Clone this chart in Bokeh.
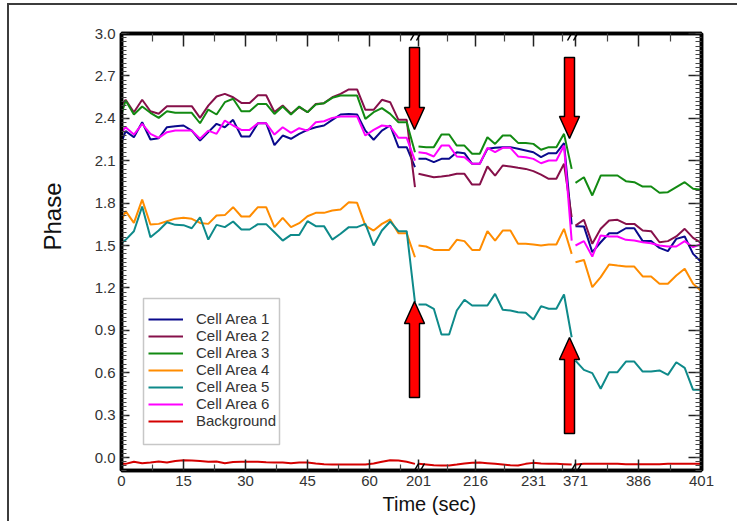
from bokeh.plotting import figure
from bokeh.models import (Range1d, FixedTicker, LinearAxis, Legend, LegendItem,
                          BoxAnnotation, Arrow, Title, CustomJSTickFormatter,
                          PrintfTickFormatter)
from bokeh.embed import file_html
from bokeh.resources import INLINE

# ---------------- data ----------------
t_seg1 = [0, 1, 3, 5, 7, 9, 11, 13, 15, 17, 19, 21, 23, 25, 27, 29, 31, 33, 35,
          37, 39, 41, 43, 45, 47, 49, 51, 53, 55, 57, 59, 61, 63, 65, 67, 69, 71]
t_seg2 = [201, 203, 205, 207, 209, 211, 213, 215, 217, 219, 221, 223, 225, 227,
          229, 231, 233, 235, 237, 239, 241]
t_seg3 = [371, 373, 375, 377, 379, 381, 383, 385, 387, 389, 391, 393, 395, 397,
          399, 401]

ca1_s1 = [2.231, 2.309, 2.266, 2.372, 2.250, 2.259, 2.337, 2.344, 2.349, 2.313,
          2.243, 2.302, 2.361, 2.337, 2.389, 2.271, 2.271, 2.365, 2.365,
          2.210, 2.278, 2.255, 2.290, 2.318, 2.337, 2.349, 2.389, 2.427, 2.431,
          2.427, 2.313, 2.248, 2.313, 2.349, 2.196, 2.196, 2.054]
ca1_s2 = [2.113, 2.113, 2.090, 2.113, 2.113, 2.160, 2.153, 2.078, 2.078, 2.184,
          2.191, 2.196, 2.196, 2.184, 2.172, 2.160, 2.125, 2.153, 2.153, 2.224, 1.650]
ca1_s3 = [1.637, 1.635, 1.453, 1.523, 1.587, 1.587, 1.622, 1.622, 1.531, 1.531,
          1.483, 1.460, 1.547, 1.564, 1.441, 1.382]

ca2_s1 = [2.497, 2.531, 2.443, 2.531, 2.450, 2.432, 2.486, 2.486, 2.486, 2.486,
          2.403, 2.490, 2.554, 2.573, 2.549, 2.509, 2.509, 2.563, 2.563,
          2.445, 2.490, 2.432, 2.479, 2.443, 2.502, 2.507, 2.549, 2.573, 2.604,
          2.604, 2.460, 2.460, 2.531, 2.514, 2.389, 2.389, 1.913]
ca2_s2 = [2.007, 1.995, 1.983, 1.988, 1.995, 2.007, 2.007, 1.931, 1.931, 2.059,
          1.995, 2.066, 2.059, 2.050, 2.042, 2.026, 2.002, 1.972, 1.972, 2.078, 1.700]
ca2_s3 = [1.641, 1.682, 1.512, 1.618, 1.677, 1.682, 1.653, 1.653, 1.606, 1.601,
          1.523, 1.531, 1.564, 1.618, 1.554, 1.516]

ca3_s1 = [2.431, 2.526, 2.427, 2.483, 2.439, 2.403, 2.450, 2.439, 2.439, 2.439,
          2.365, 2.462, 2.427, 2.514, 2.538, 2.450, 2.450, 2.502, 2.502,
          2.431, 2.483, 2.427, 2.483, 2.443, 2.497, 2.507, 2.545, 2.561, 2.561,
          2.561, 2.396, 2.443, 2.472, 2.431, 2.372, 2.372, 2.160]
ca3_s2 = [2.200, 2.196, 2.196, 2.285, 2.285, 2.207, 2.207, 2.149, 2.149, 2.266,
          2.219, 2.278, 2.278, 2.226, 2.226, 2.219, 2.177, 2.196, 2.196, 2.290, 2.042]
ca3_s3 = [1.943, 1.983, 1.854, 1.995, 1.995, 1.995, 1.955, 1.948, 1.917, 1.917,
          1.873, 1.877, 1.913, 1.948, 1.901, 1.894]

ca4_s1 = [1.677, 1.743, 1.660, 1.825, 1.649, 1.653, 1.672, 1.690, 1.696, 1.689,
          1.660, 1.653, 1.712, 1.715, 1.771, 1.705, 1.705, 1.771, 1.771,
          1.630, 1.696, 1.630, 1.658, 1.707, 1.731, 1.731, 1.748, 1.755, 1.806,
          1.802, 1.641, 1.606, 1.653, 1.684, 1.587, 1.587, 1.417]
ca4_s2 = [1.500, 1.493, 1.469, 1.469, 1.469, 1.540, 1.531, 1.469, 1.469, 1.601,
          1.535, 1.606, 1.606, 1.512, 1.512, 1.507, 1.500, 1.507, 1.507, 1.618, 1.441]
ca4_s3 = [1.382, 1.398, 1.205, 1.276, 1.366, 1.358, 1.351, 1.351, 1.281, 1.281,
          1.229, 1.229, 1.288, 1.335, 1.229, 1.177]

ca5_s1 = [1.516, 1.540, 1.601, 1.776, 1.559, 1.606, 1.665, 1.646, 1.644, 1.622,
          1.700, 1.542, 1.646, 1.630, 1.670, 1.613, 1.613, 1.651, 1.651,
          1.594, 1.535, 1.575, 1.575, 1.672, 1.637, 1.637, 1.542, 1.583, 1.630,
          1.630, 1.653, 1.500, 1.606, 1.670, 1.601, 1.601, 1.100]
ca5_s2 = [1.082, 1.082, 1.052, 0.870, 0.870, 1.040, 1.116, 1.075, 1.075, 1.075,
          1.158, 1.045, 1.040, 1.028, 1.024, 0.976, 1.071, 1.052, 1.052, 1.153, 0.851]
ca5_s3 = [0.686, 0.620, 0.597, 0.486, 0.604, 0.604, 0.679, 0.679, 0.608, 0.608,
          0.616, 0.585, 0.674, 0.634, 0.479, 0.479]

ca6_s1 = [2.302, 2.337, 2.285, 2.361, 2.290, 2.262, 2.302, 2.313, 2.313, 2.313,
          2.255, 2.313, 2.290, 2.384, 2.349, 2.318, 2.318, 2.365, 2.365,
          2.285, 2.337, 2.297, 2.330, 2.313, 2.372, 2.379, 2.403, 2.413, 2.413,
          2.413, 2.278, 2.318, 2.349, 2.342, 2.262, 2.262, 2.101]
ca6_s2 = [2.160, 2.153, 2.130, 2.207, 2.207, 2.130, 2.125, 2.078, 2.078, 2.191,
          2.160, 2.191, 2.191, 2.130, 2.125, 2.113, 2.082, 2.101, 2.101, 2.207, 1.535]
ca6_s3 = [1.500, 1.531, 1.422, 1.571, 1.564, 1.564, 1.540, 1.535, 1.523, 1.516,
          1.500, 1.493, 1.493, 1.531, 1.488, 1.512]

bg_s1 = [-0.045, -0.045, -0.030, -0.040, -0.035, -0.028, -0.035, -0.025, -0.020,
         -0.022, -0.025, -0.030, -0.028, -0.040, -0.032, -0.030, -0.030, -0.030,
         -0.033, -0.035, -0.035, -0.040, -0.036, -0.036, -0.042, -0.047, -0.050,
         -0.050, -0.050, -0.050, -0.050, -0.042, -0.030, -0.020, -0.022, -0.030,
         -0.045]
bg_s2 = [-0.045, -0.050, -0.055, -0.057, -0.057, -0.050, -0.042, -0.038, -0.035,
         -0.040, -0.045, -0.050, -0.055, -0.057, -0.045, -0.038, -0.042, -0.045,
         -0.045, -0.047, -0.050]
bg_s3 = [-0.050, -0.045, -0.045, -0.045, -0.045, -0.045, -0.048, -0.048, -0.048,
         -0.048, -0.048, -0.045, -0.045, -0.045, -0.045, -0.045]

series_names = ["Cell Area 1", "Cell Area 2", "Cell Area 3", "Cell Area 4",
                "Cell Area 5", "Cell Area 6", "Background"]
series_colors = ["#0a0a8c", "#86104a", "#128a12", "#ff8c00", "#0e8a8a",
                 "#ff00ff", "#d40000"]
series_values = [
    (ca1_s1, ca1_s2, ca1_s3), (ca2_s1, ca2_s2, ca2_s3), (ca3_s1, ca3_s2, ca3_s3),
    (ca4_s1, ca4_s2, ca4_s3), (ca5_s1, ca5_s2, ca5_s3), (ca6_s1, ca6_s2, ca6_s3),
    (bg_s1, bg_s2, bg_s3),
]

x_tick_times = [0, 15, 30, 45, 60, 201, 216, 231, 371, 386, 401]
x_minor_times = [7.5, 22.5, 37.5, 52.5, 67.5, 208.5, 223.5, 238.5, 378.5, 393.5]
y_ticks = [0.0, 0.3, 0.6, 0.9, 1.2, 1.5, 1.8, 2.1, 2.4, 2.7, 3.0]

# ---------------- broken time axis: piecewise display scale ----------------
BREAK_SEGMENTS = [(0, 72, 0.0, 62.0 / 15.0),
                  (201, 242, 297.0, (454.0 - 297.0) / 41.0),
                  (371, 401, 454.0, 126.0 / 30.0)]
BREAKS = [201, 371]


def disp(t):
    for t0, t1, d0, k in BREAK_SEGMENTS:
        if t0 <= t <= t1:
            return d0 + (t - t0) * k
    raise ValueError(t)


PX_PER_UNIT_Y = 424.0 / 3.0   # vertical pixels per phase unit
FONT = "Liberation Sans"

p = figure(width=730, height=518, output_backend="svg", toolbar_location=None,
           x_range=Range1d(0, 580), y_range=Range1d(-13.0 / PX_PER_UNIT_Y, 3.0),
           min_border_left=112, min_border_right=38, min_border_top=28,
           min_border_bottom=53, background_fill_color="white",
           border_fill_color="white")
p.margin = (3, 0, 0, 7)
p.styles = {"border-top": "2px solid #3c3c3c", "border-left": "2px solid #3c3c3c"}
p.xgrid.visible = False
p.ygrid.visible = False
p.outline_line_color = "black"
p.outline_line_width = 3.5

# ticks
xt_major = [round(disp(t)) for t in x_tick_times]
xt_minor = [round(disp(t), 1) for t in x_minor_times]
x_ticker = FixedTicker(ticks=xt_major, minor_ticks=xt_minor)
y_minor = [round(-0.09 + 0.03 * i, 2) for i in range(104)]
y_ticker = FixedTicker(ticks=y_ticks, minor_ticks=y_minor)
blank = CustomJSTickFormatter(code="return ''")


def style_axis(ax, major_in, minor_in):
    ax.axis_line_width = 3.5
    ax.axis_line_color = "black"
    ax.major_tick_out = 0
    ax.minor_tick_out = 0
    ax.major_tick_in = major_in
    ax.minor_tick_in = minor_in
    ax.major_tick_line_color = "#222222"
    ax.major_tick_line_width = 1.5
    ax.minor_tick_line_color = "#444444"
    ax.minor_tick_line_width = 1.2
    ax.major_label_text_font = FONT
    ax.major_label_text_font_size = "15px"
    ax.major_label_text_color = "#333333"


xb = p.xaxis[0]
xb.ticker = x_ticker
xb.major_label_overrides = {d: str(t) for d, t in zip(xt_major, x_tick_times)}
style_axis(xb, 11, 6)
xb.major_label_standoff = 5

yl = p.yaxis[0]
yl.ticker = y_ticker
yl.formatter = PrintfTickFormatter(format="%.1f")
style_axis(yl, 8, 5)
yl.major_label_standoff = 6

xa = LinearAxis(ticker=x_ticker, formatter=blank)
style_axis(xa, 13, 8)
xa.major_label_standoff = 0
p.add_layout(xa, "above")

yr = LinearAxis(ticker=y_ticker, formatter=blank)
style_axis(yr, 13, 6)
yr.major_label_standoff = 0
p.add_layout(yr, "right")

# axis titles
t_left = Title(text="Phase", align="left", offset=220, text_font=FONT,
               text_font_size="24px", text_font_style="normal", text_color="#111111")
t_below = Title(text="Time (sec)", align="left", offset=261, text_font=FONT,
                text_font_size="20px", text_font_style="normal", text_color="#111111")
if "standoff" in Title.properties():
    t_left.standoff = 52
    t_below.standoff = 4
p.add_layout(t_left, "left")
p.add_layout(t_below, "below")

# ---------------- lines ----------------
renderers = []
for name, color, (s1, s2, s3) in zip(series_names, series_colors, series_values):
    xs = [[disp(t) for t in t_seg1], [disp(t) for t in t_seg2], [disp(t) for t in t_seg3]]
    ys = [list(s1), list(s2), list(s3)]
    r = p.multi_line(xs=xs, ys=ys, line_color=color, line_width=2)
    renderers.append(r)


def px_to_d(px):
    return px - 121.0


def py_to_v(py):
    return (457.0 - py) / PX_PER_UNIT_Y


# legend frame
box = BoxAnnotation(left=px_to_d(143), right=px_to_d(279), top=py_to_v(298),
                    bottom=py_to_v(444), fill_color="white", fill_alpha=1.0,
                    line_color="#444444", line_width=1.5)
p.add_layout(box)

legend = Legend(items=[LegendItem(label=n, renderers=[r])
                       for n, r in zip(series_names, renderers)],
                location=(27, 41), glyph_width=35, glyph_height=16, label_height=16,
                spacing=0, padding=0, margin=0, label_standoff=13,
                border_line_color=None, background_fill_alpha=0,
                label_text_font=FONT, label_text_font_size="15px",
                label_text_color="#333333")
p.add_layout(legend)

# red arrows marking the treatment times (tip value, tail value, px shift)
arrow_specs = [
    (201, -4, "down", py_to_v(129), py_to_v(47)),
    (371, -6, "down", py_to_v(138), py_to_v(57)),
    (201, -4, "up", py_to_v(301), py_to_v(397)),
    (371, -6, "up", py_to_v(337), py_to_v(433)),
]
ax_list, ay_list = [], []
hl = 22.0 / PX_PER_UNIT_Y
for tb, shift, direction, tip, tail in arrow_specs:
    xc = disp(tb) + shift
    base = tip + hl if direction == "down" else tip - hl
    ax_list.append([xc - 5, xc + 5, xc + 5, xc + 10, xc, xc - 10, xc - 5])
    ay_list.append([tail, tail, base, base, tip, base, base])
p.patches(xs=ax_list, ys=ay_list, fill_color="#ff0000", line_color="black",
          line_width=1.5)

# break marks "//" on the top and bottom axes
for tb in BREAKS:
    xb0 = disp(tb)
    for (y_lo, y_hi) in [(py_to_v(40), py_to_v(26)), (py_to_v(477), py_to_v(463))]:
        for dx in (-8, -2):
            p.add_layout(Arrow(end=None, x_start=xb0 + dx, y_start=y_lo,
                               x_end=xb0 + dx + 8, y_end=y_hi,
                               line_color="black", line_width=1.5))

open("out.html", "w").write(file_html(p, INLINE))
